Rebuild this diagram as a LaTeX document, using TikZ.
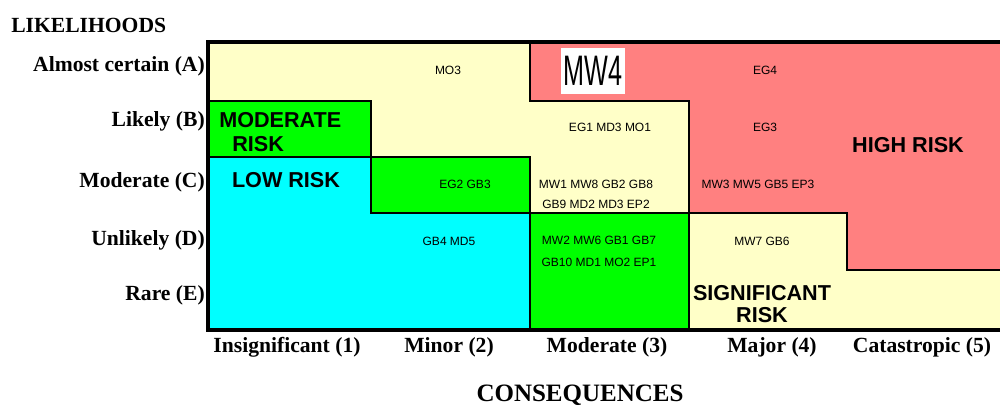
\documentclass[tikz,border=0pt]{standalone}
\usepackage{fontspec}
\setmainfont{Liberation Serif}
\setsansfont{Liberation Sans}
\usetikzlibrary{positioning}

\definecolor{riskyellow}{RGB}{255,255,200}
\definecolor{riskred}{RGB}{255,128,128}
\definecolor{riskgreen}{RGB}{0,255,0}
\definecolor{riskcyan}{RGB}{0,255,255}

\begin{document}
\begin{tikzpicture}[x=0.75pt, y=-0.75pt,
    zone/.style={draw=black, line width=1.9pt, line join=miter},
    frame/.style={draw=black, line width=2.5pt, line join=miter},
    axis_label/.style={font=\rmfamily\bfseries\fontsize{16.2}{18}\selectfont, inner sep=0pt},
    title_label/.style={font=\rmfamily\bfseries\fontsize{18.75}{21}\selectfont, inner sep=0pt},
    cell/.style={font=\sffamily\fontsize{9}{10}\selectfont, inner sep=0pt},
    risk/.style={font=\sffamily\bfseries\fontsize{16.2}{18}\selectfont, inner sep=0pt}]

    \useasboundingbox (0,0) rectangle (1000,406);

    % risk zones
    \draw[zone, fill=riskyellow] (208,42) -- (530,42) -- (530,101) -- (689,101) -- (689,213)
        -- (530,213) -- (530,157) -- (371,157) -- (371,101) -- (208,101) -- cycle;
    \draw[zone, fill=riskred] (530,42) -- (1010,42) -- (1010,270) -- (847,270) -- (847,213)
        -- (689,213) -- (689,101) -- (530,101) -- cycle;
    \draw[zone, fill=riskgreen] (208,101) rectangle (371,157);
    \draw[zone, fill=riskgreen] (371,157) rectangle (530,213);
    \draw[zone, fill=riskgreen] (530,213) rectangle (689,330);
    \draw[zone, fill=riskcyan] (208,157) -- (371,157) -- (371,213) -- (530,213) -- (530,330)
        -- (208,330) -- cycle;
    \draw[zone, fill=riskyellow] (689,213) -- (847,213) -- (847,270) -- (1010,270) -- (1010,330)
        -- (689,330) -- cycle;
    \draw[frame] (208,42) rectangle (1010,330);

    % likelihoods
    \node[axis_label, anchor=base west] (likelihoods) at (11,33) {LIKELIHOODS};
    \node[axis_label, anchor=base east] (rowA) at (205,72) {Almost certain (A)};
    \node[axis_label, anchor=base east] (rowB) at (205,127) {Likely (B)};
    \node[axis_label, anchor=base east] (rowC) at (205,188) {Moderate (C)};
    \node[axis_label, anchor=base east] (rowD) at (205,245) {Unlikely (D)};
    \node[axis_label, anchor=base east] (rowE) at (205,300) {Rare (E)};

    % consequences
    \node[axis_label, anchor=base] (col1) at (287,352) {Insignificant (1)};
    \node[axis_label, anchor=base] (col2) at (449,352) {Minor (2)};
    \node[axis_label, anchor=base] (col3) at (607,352) {Moderate (3)};
    \node[axis_label, anchor=base] (col4) at (772,352) {Major (4)};
    \node[axis_label, anchor=base] (col5) at (922,352) {Catastropic (5)};
    \node[title_label, anchor=base] (consequences) at (580,401) {CONSEQUENCES};

    % entries
    \node[cell] (mo3) at (448,70) {MO3};
    \node[fill=white, inner sep=0pt, minimum width=48pt, minimum height=34.5pt,
        font=\sffamily\fontsize{32}{34}\selectfont] (mw4) at (593,71) {\scalebox{0.59}[1]{MW4}};
    \node[cell] (eg4) at (765,70) {EG4};
    \node[cell] (cellB3) at (610,127) {EG1 MD3 MO1};
    \node[cell] (eg3) at (765,127) {EG3};
    \node[cell] (cellC2) at (465,184) {EG2 GB3};
    \node[cell] (cellC3a) at (596,184) {MW1 MW8 GB2 GB8};
    \node[cell] (cellC3b) [below=8.5pt of cellC3a] {GB9 MD2 MD3 EP2};
    \node[cell] (cellC4) at (758,184) {MW3 MW5 GB5 EP3};
    \node[cell] (cellD2) at (449,241) {GB4 MD5};
    \node[cell] (cellD3a) at (599,240) {MW2 MW6 GB1 GB7};
    \node[cell] (cellD3b) [below=10pt of cellD3a] {GB10 MD1 MO2 EP1};
    \node[cell] (cellD4) at (762,241) {MW7 GB6};

    % risk levels
    \node[risk, anchor=west] (moderate1) at (219,120) {MODERATE};
    \node[risk, anchor=west] (moderate2) at (232,144) {RISK};
    \node[risk] (low) at (286,180) {LOW RISK};
    \node[risk] (high) at (908,145) {HIGH RISK};
    \node[risk] (significant1) at (762,293) {SIGNIFICANT};
    \node[risk] (significant2) at (762,315) {RISK};

\end{tikzpicture}
\end{document}
